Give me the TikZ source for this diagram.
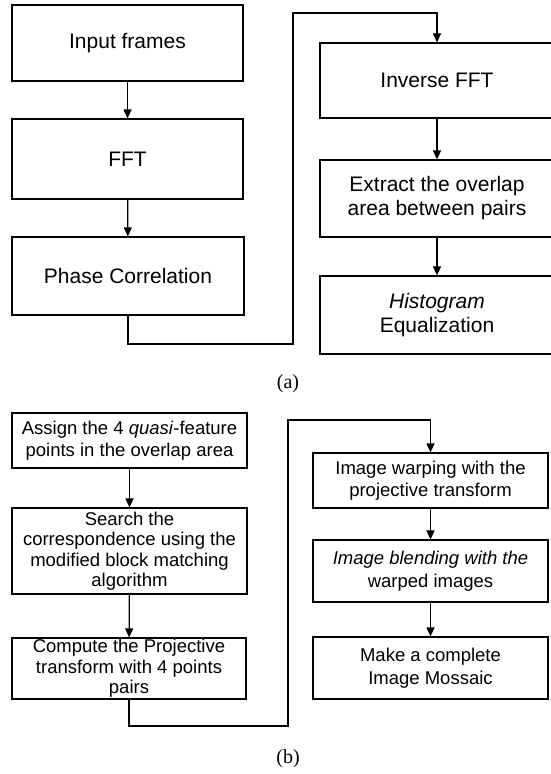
\documentclass[tikz,border=0pt]{standalone}
\usepackage{fontspec}
\setmainfont{Liberation Sans}
\newfontfamily\labelfont{Liberation Serif}
\usetikzlibrary{arrows.meta}
\tikzset{
  stepbox/.style={draw, line width=1.2pt, rectangle, inner sep=0pt, align=center},
  bigtext/.style={font=\fontsize{21}{24}\selectfont},
  smalltext/.style={font=\fontsize{18.5}{22.5}\selectfont},
  tighttext/.style={font=\fontsize{18.5}{20.5}\selectfont},
  flow/.style={line width=1.2pt, -{Triangle[length=9pt,width=8pt]}},
  sublabel/.style={font=\labelfont\fontsize{20}{24}\selectfont}
}
\begin{document}
\begin{tikzpicture}[x=1pt,y=-1pt]
\clip (0,0) rectangle (551,774);
\useasboundingbox (0,0) rectangle (551,774);
% (a)
\node[stepbox,bigtext,minimum width=231pt,minimum height=76pt] (in) at (127.5,43) {Input frames};
\node[stepbox,bigtext,minimum width=231pt,minimum height=80pt] (fft) at (127.5,159) {FFT};
\node[stepbox,bigtext,minimum width=232pt,minimum height=78pt] (phase) at (128,276) {Phase Correlation};
\node[stepbox,bigtext,minimum width=234pt,minimum height=75pt] (inv) at (437,80.5) {Inverse FFT};
\node[stepbox,bigtext,minimum width=234pt,minimum height=77pt] (ext) at (437,198.5) {Extract the overlap\\area between pairs};
\node[stepbox,bigtext,minimum width=234pt,minimum height=78pt] (hist) at (437,315) {\textit{Histogram}\\Equalization};
\draw[flow] (in) -- (fft);
\draw[flow] (fft) -- (phase);
\draw[flow] (inv) -- (ext);
\draw[flow] (ext) -- (hist);
\coordinate (ca1) at (293,344);
\coordinate (ca2) at (293,13);
\draw[flow] (phase.south) |- (ca1) -- (ca2) -| (inv.north);
\node[sublabel] (la) at (288,384) {(a)};
% (b)
\node[stepbox,smalltext,minimum width=235pt,minimum height=55pt] (asg) at (129.5,440.5) {Assign the 4 \textit{quasi}-feature\\points in the overlap area};
\node[stepbox,tighttext,minimum width=235pt,minimum height=86pt] (srch) at (129.5,551) {Search the\\correspondence using the\\modified block matching\\algorithm};
\node[stepbox,tighttext,minimum width=234pt,minimum height=61pt] (comp) at (129,668.5) {Compute the Projective\\transform with 4 points\\pairs};
\node[stepbox,smalltext,minimum width=235pt,minimum height=55pt] (warp) at (430.5,480.5) {Image warping with the\\projective transform};
\node[stepbox,smalltext,minimum width=235pt,minimum height=62pt] (blend) at (430.5,571) {\textit{Image blending with the}\\warped images};
\node[stepbox,smalltext,minimum width=235pt,minimum height=62pt] (mk) at (430.5,668) {Make a complete\\Image Mossaic};
\draw[flow] (asg) -- (srch);
\draw[flow] (srch) -- (comp);
\draw[flow] (warp) -- (blend);
\draw[flow] (blend) -- (mk);
\coordinate (cb1) at (288,726);
\coordinate (cb2) at (288,420);
\draw[flow] (comp.south) |- (cb1) -- (cb2) -| (warp.north);
\node[sublabel] (lb) at (288,759) {(b)};
\end{tikzpicture}
\end{document}
